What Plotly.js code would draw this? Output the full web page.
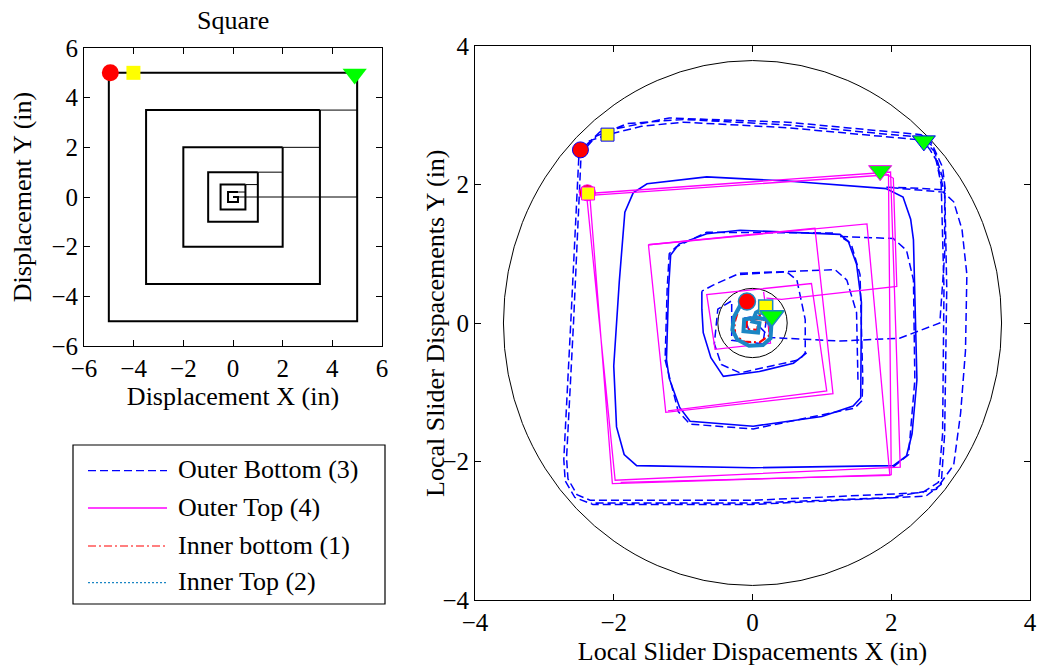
<!DOCTYPE html>
<html>
<head>
<meta charset="utf-8">
<script src="https://cdn.plot.ly/plotly-3.0.1.min.js"></script>
<style>html,body{margin:0;padding:0;background:#fff;}#chart{width:1037px;height:671px;}</style>
</head>
<body>
<div id="chart"></div>
<script>
// ---------------- DATA ----------------
// Left panel: commanded square spiral (inches)
const squareLoops = [
  [-5,5],[5,5],[5,-5],[-5,-5],[-5,5],null,
  [3.5,3.5],[3.5,-3.5],[-3.5,-3.5],[-3.5,3.5],[3.5,3.5],null,
  [2,2],[2,-2],[-2,-2],[-2,2],[2,2],null,
  [1,1],[1,-1],[-1,-1],[-1,1],[1,1],null,
  [0.5,0.5],[0.5,-0.5],[-0.5,-0.5],[-0.5,0.5],[0.5,0.5],null,
  [0.2,0.2],[-0.2,0.2],[-0.2,-0.2],[0.2,-0.2],[0.2,0.0],[0.0,0.0]
];
const squareLinks = [
  [5,3.5],[3.5,3.5],null,
  [3.5,2],[2,2],null,
  [2,1],[1,1],null,
  [1,0.5],[0.5,0.5],null,
  [0.5,0.2],[0.2,0.2],null,
  [0.0,0.0],[5,0],[5,5]
];
const squareMarkX = [-4.94, -4.01, 4.9];
const squareMarkY = [5.0, 5.0, 4.95];

// Right panel: local slider displacements (inches)
// Outer Bottom (3): fast portions (dashes visible)
const outerBottom = [
  [-2.48,2.50],[-2.35,2.63],[-2.09,2.72],[-1.6,2.84],[-1.0,2.9],[0.5,2.82],[2.47,2.64],[2.62,2.48],[2.72,2.0],[2.76,0.5],[2.74,-1.6],[2.68,-2.3],[2.45,-2.45],[0.0,-2.56],[-2.34,-2.56],[-2.53,-2.48],[-2.66,-2.25],[-2.68,-1.95],[-2.58,0.0],[-2.5,1.8],[-2.47,2.45],
  [-2.25,2.70],[-1.8,2.88],[-1.0,2.94],[0.5,2.86],[2.45,2.68],[2.6,2.55],[2.77,2.0],[2.8,0.5],[2.77,-1.6],[2.72,-2.33],[2.5,-2.5],[0.0,-2.62],[-2.3,-2.62],[-2.56,-2.52],[-2.7,-2.28],[-2.72,-1.97],[-2.62,0.0],[-2.53,1.8],[-2.5,2.47],
  [-2.2,2.76],[-1.2,2.96],[0.5,2.9],[2.43,2.72],[2.58,2.6],[2.74,2.25],[2.78,1.92],[2.3,1.95],[1.93,1.96],
  [2.75,1.89],[2.9,1.75],[3.02,1.35],[3.09,0.7],[3.07,-0.4],[3.0,-1.3],[2.9,-2.05],[2.65,-2.4],[2.0,-2.52],[0.0,-2.6],[-2.33,-2.6],null,
  [2.03,-2.08],[2.25,-1.9],[2.34,-0.82],[2.32,0.62],[2.22,1.05],[2.03,1.22],[1.26,1.25],
  [1.42,1.15],[1.55,0.7],[1.59,-0.82],[1.58,-1.12],[1.47,-1.23],[0.01,-1.53],[-0.9,-1.46],[-1.07,-1.28],[-1.26,-0.53],[-1.23,0.5],[-1.2,1.0],[-1.1,1.1],[-0.66,1.31],[1.2,1.3],null,
  [1.52,-0.82],[1.5,0.15],[1.36,0.62],[1.19,0.77],[0.44,0.74],[-0.18,0.72],[-0.56,0.55],[-0.73,0.46],null,
  [-0.18,0.70],[0.49,0.74],[0.64,0.62],[0.76,0.05],[0.76,-0.43],[0.68,-0.53],[-0.18,-0.72],[-0.45,-0.6],[-0.55,-0.3],[-0.5,0.2],[-0.3,0.32],
  [-0.3,-0.25],[0.15,-0.3],[0.2,0.05],[0.06,0.1],[-0.11,0.07],[-0.04,-0.14],[0.08,-0.12],[0.1,-0.05],
  [0.25,-0.21],[1.26,-0.26],[2.12,-0.22],[2.70,0.0],[2.77,1.0],[2.77,1.87],[2.65,2.35],[2.56,2.5],[2.47,2.62]
];
// Outer Bottom (3): slow portions (dense samples, drawn solid)
const outerBottomSlow = [
  [1.93,1.94],[2.17,1.82],[2.28,1.5],[2.32,1.2],[2.35,0.0],[2.37,-0.82],[2.3,-1.6],[2.22,-1.92],[2.03,-2.06],[0.0,-2.09],[-1.67,-2.06],[-1.85,-1.9],[-1.96,-1.5],[-2.0,-0.62],[-1.92,0.6],[-1.84,1.6],[-1.72,1.88],[-1.52,2.01],[-0.66,2.11],[0.5,2.05],[1.93,1.94],null,
  [-0.18,1.34],[1.26,1.28],[1.38,1.18],[1.5,0.85],[1.57,0.3],[1.57,-0.82],[1.56,-1.08],[1.45,-1.2],[1.0,-1.35],[0.01,-1.49],[-0.9,-1.42],[-1.05,-1.22],[-1.2,-0.8],[-1.24,-0.53],[-1.21,0.5],[-1.18,0.98],[-1.06,1.14],[-0.66,1.29],[-0.18,1.34],null,
  [-0.73,0.46],[-0.73,0.2],[-0.71,-0.14],[-0.6,-0.5],[-0.42,-0.77],[0.1,-0.7],[0.59,-0.58],[0.78,-0.43]
];
const outerTop = [
  [-2.37,1.87],[1.99,2.18],[2.13,-2.08],[-1.98,-2.27],[-2.39,1.84],[1.96,2.14],[2.0,-2.19],[-2.02,-2.32],[-2.35,1.90],null,
  [-1.5,1.13],[1.65,1.43],[1.98,-2.2],[-1.9,-2.3],null,
  [-1.5,1.13],[0.9,1.37],[1.16,-1.02],[-1.25,-1.29],[-1.5,1.13],null,
  [-1.22,-1.27],[1.07,-0.98],[0.85,0.57],[-0.66,0.41],[-0.54,-0.38],[0.26,-0.29],[0.16,0.45],null,
  [0.2,0.36],[0.42,0.34],[2.08,0.53],[2.03,2.09],[1.84,2.2]
];
const innerBottom = [
  [-0.08,0.31],[-0.2,0.2],[-0.26,0.0],[-0.25,-0.18],[-0.12,-0.27],[0.1,-0.28],[0.24,-0.18],[0.25,-0.02],[0.12,0.06],[-0.08,0.04],[-0.09,-0.09],[0.07,-0.1],[0.08,0.0],[0.12,0.18],[0.19,0.23],[0.26,0.12]
];
const innerTop = [
  [-0.08,0.31],[-0.18,0.25],[-0.27,0.08],[-0.29,-0.1],[-0.22,-0.24],[-0.05,-0.33],[0.15,-0.32],[0.26,-0.22],[0.27,-0.05],[0.2,0.05],[0.05,0.08],[-0.12,0.05],[-0.13,-0.12],[0.08,-0.14],[0.1,0.0],[0.0,0.02],[0.05,0.15],[0.19,0.23],[0.28,0.1]
];
// event markers (start circle, square, end triangle)
const outerBottomMarkX = [-2.48, -2.09, 2.47];
const outerBottomMarkY = [2.50, 2.72, 2.63];
const outerTopMarkX = [-2.38, -2.37, 1.84];
const outerTopMarkY = [1.88, 1.87, 2.20];
const innerMarkX = [-0.08, 0.19, 0.28];
const innerMarkY = [0.31, 0.23, 0.10];

// slider limit circles
const bigCircleRx = 3.59, bigCircleRy = 3.79;
const smallCircleR = 0.5;

const seriesNames = ['Outer Bottom (3)', 'Outer Top (4)', 'Inner bottom (1)', 'Inner Top (2)'];
const seriesColors = ['#0000ff', '#ff00ff', '#ff0000', '#1b86c4'];
const seriesDash = ['8px,4px', 'solid', '8px,3px,2px,3px', '2px,2px'];

// ---------------- BUILD ----------------
const xs = p => p.map(v => v === null ? null : v[0]);
const ys = p => p.map(v => v === null ? null : v[1]);
const W = 1037, H = 671;
const px = v => v / W, py = v => 1 - v / H;
const FONT = 'Liberation Serif, Times New Roman, serif';
const markSymbols = ['circle', 'square', 'triangle-down'];
const markColors = ['#ff0000', '#ffff00', '#00ff00'];
const markSizes = [16, 13, 20];

const traces = [
  {x: xs(squareLinks), y: ys(squareLinks), xaxis:'x', yaxis:'y', mode:'lines', line:{color:'#000', width:1}},
  {x: xs(squareLoops), y: ys(squareLoops), xaxis:'x', yaxis:'y', mode:'lines', line:{color:'#000', width:2}},
  {x: squareMarkX, y: squareMarkY, xaxis:'x', yaxis:'y', mode:'markers',
   marker:{symbol: markSymbols, color: markColors, size:[17,14,21], opacity:1, line:{width:0}}},
  {x: xs(outerBottom), y: ys(outerBottom), xaxis:'x2', yaxis:'y2', mode:'lines', line:{color:seriesColors[0], width:1.5, dash:seriesDash[0]}},
  {x: xs(outerBottomSlow), y: ys(outerBottomSlow), xaxis:'x2', yaxis:'y2', mode:'lines', line:{color:seriesColors[0], width:1.6}},
  {x: xs(outerTop), y: ys(outerTop), xaxis:'x2', yaxis:'y2', mode:'lines', line:{color:seriesColors[1], width:1.3, dash:seriesDash[1]}},
  {x: xs(innerBottom), y: ys(innerBottom), xaxis:'x2', yaxis:'y2', mode:'lines', line:{color:seriesColors[2], width:2.2, dash:seriesDash[2]}},
  {x: xs(innerTop), y: ys(innerTop), xaxis:'x2', yaxis:'y2', mode:'lines', line:{color:seriesColors[3], width:4}},
  {x: outerBottomMarkX, y: outerBottomMarkY, xaxis:'x2', yaxis:'y2', mode:'markers',
   marker:{symbol: markSymbols, color: markColors, size: markSizes, opacity:1, line:{color:seriesColors[0], width:1}}},
  {x: outerTopMarkX, y: outerTopMarkY, xaxis:'x2', yaxis:'y2', mode:'markers',
   marker:{symbol: markSymbols, color: markColors, size: markSizes, opacity:1, line:{color:seriesColors[1], width:1}}},
  {x: innerMarkX, y: innerMarkY, xaxis:'x2', yaxis:'y2', mode:'markers',
   marker:{symbol: markSymbols, color: markColors, size:[17,14,21], opacity:1, line:{color:seriesColors[3], width:1.5}}}
];
traces.forEach(t => { t.showlegend = false; t.hoverinfo = 'skip'; });

const axisCommon = {
  showgrid:false, zeroline:false, showline:true, linecolor:'#000', linewidth:1,
  mirror:'allticks', ticks:'inside', ticklen:6, tickcolor:'#000', tickwidth:1,
  tickfont:{family:FONT, size:25, color:'#000'}, fixedrange:true
};

const shapes = [
  {type:'circle', xref:'x2', yref:'y2', x0:-bigCircleRx, x1:bigCircleRx, y0:-bigCircleRy, y1:bigCircleRy, line:{color:'#000', width:1}, layer:'below'},
  {type:'circle', xref:'x2', yref:'y2', x0:-smallCircleR, x1:smallCircleR, y0:-smallCircleR, y1:smallCircleR, line:{color:'#000', width:1}, layer:'below'},
  // legend box
  {type:'rect', xref:'paper', yref:'paper', x0:px(73), x1:px(385), y0:py(604), y1:py(445), line:{color:'#000', width:1.2}, fillcolor:'rgba(255,255,255,0)'}
];
const annotations = [
  {text:'Square', xref:'paper', yref:'paper', x:px(233), y:py(21), xanchor:'center', yanchor:'middle', showarrow:false, font:{family:FONT, size:26, color:'#000'}},
  {text:'Local Slider Dispacements Y (in)', xref:'paper', yref:'paper', x:px(435), y:py(323), xanchor:'center', yanchor:'middle', textangle:-90, showarrow:false, font:{family:FONT, size:26, color:'#000'}}
];
const legendRows = [470.7, 508, 546, 582.7];
seriesNames.forEach((name, i) => {
  shapes.push({type:'line', xref:'paper', yref:'paper', x0:px(88), x1:px(167), y0:py(legendRows[i]), y1:py(legendRows[i]),
    line:{color:seriesColors[i], width:(i===1?1.3:1.2), dash:seriesDash[i]}});
  annotations.push({text:name, xref:'paper', yref:'paper', x:px(176), y:py(legendRows[i]-1), xanchor:'left', yanchor:'middle',
    showarrow:false, font:{family:FONT, size:26, color:'#000'}});
});

const layout = {
  width: W, height: H, margin:{l:0, r:0, t:0, b:0}, paper_bgcolor:'#fff', plot_bgcolor:'#fff',
  font:{family:FONT, size:25, color:'#000'}, showlegend:false,
  xaxis: Object.assign({}, axisCommon, {domain:[px(84), px(382)], range:[-6,6], tickvals:[-6,-4,-2,0,2,4,6], anchor:'y',
    title:{text:'Displacement X (in)', font:{family:FONT, size:26, color:'#000'}, standoff:5}}),
  yaxis: Object.assign({}, axisCommon, {domain:[py(346), py(48)], range:[-6,6], tickvals:[-6,-4,-2,0,2,4,6], anchor:'x',
    title:{text:'Displacement Y (in)', font:{family:FONT, size:26, color:'#000'}, standoff:12}}),
  xaxis2: Object.assign({}, axisCommon, {domain:[px(475), px(1030)], range:[-4,4], tickvals:[-4,-2,0,2,4], anchor:'y2',
    title:{text:'Local Slider Dispacements X (in)', font:{family:FONT, size:26, color:'#000'}, standoff:6}}),
  yaxis2: Object.assign({}, axisCommon, {domain:[py(600), py(46)], range:[-4,4], tickvals:[-4,-2,0,2,4], anchor:'x2'}),
  shapes: shapes,
  annotations: annotations
};

Plotly.newPlot('chart', traces, layout, {staticPlot:true, displayModeBar:false});
</script>
</body>
</html>
